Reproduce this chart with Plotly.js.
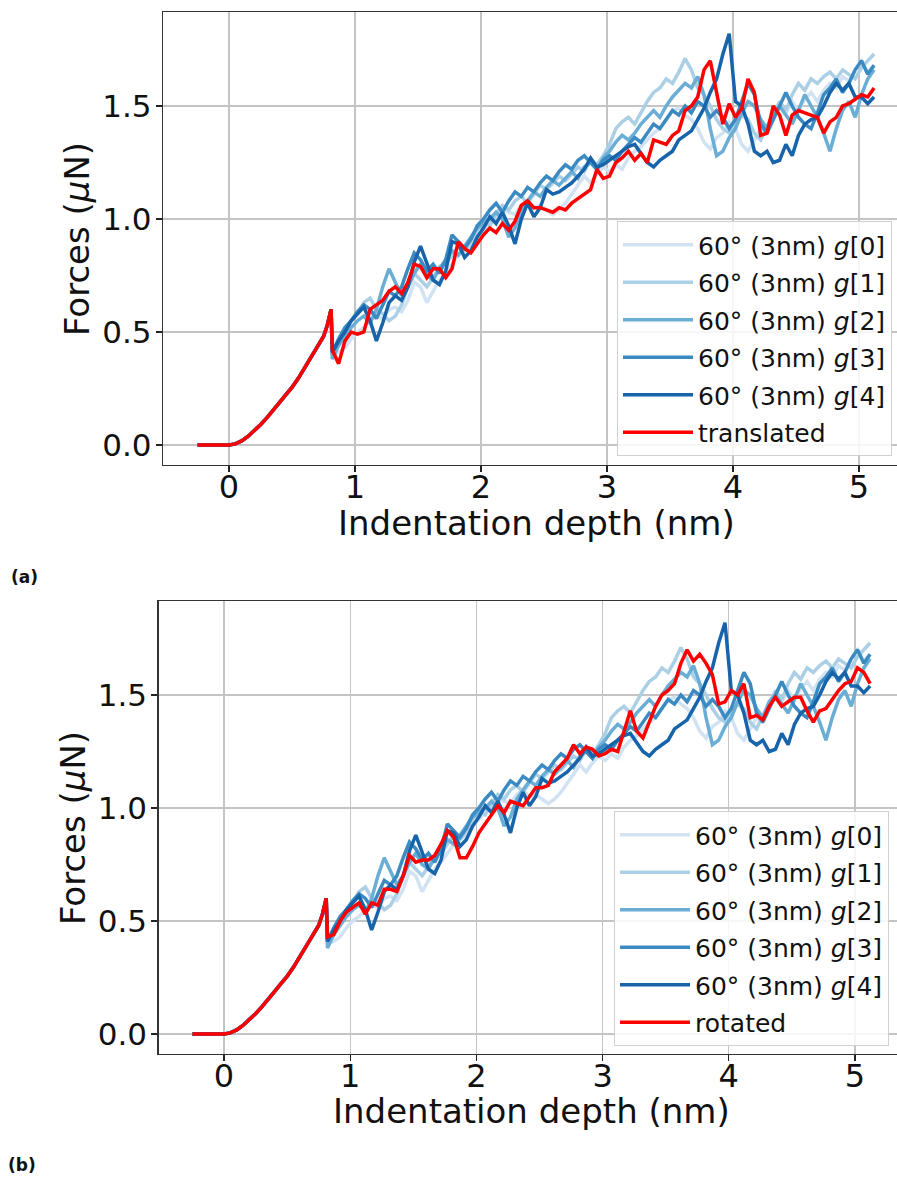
<!DOCTYPE html>
<html>
<head>
<meta charset="utf-8">
<script src="https://cdn.plot.ly/plotly-3.0.1.min.js"></script>
<style>html,body{margin:0;padding:0;background:#fff;}#plot{width:897px;height:1178px;}</style>
</head>
<body>
<div id="plot"></div>
<script>
// ---- data ----
const approachDepth = [-0.25,-0.15,-0.05,0,0.05,0.1,0.15,0.2,0.25,0.3,0.35,0.4,0.45,0.5,0.55,0.6,0.65,0.7,0.75,0.78,0.81];
const approachForce = [0,0,0,0,0.005,0.018,0.038,0.062,0.09,0.12,0.152,0.187,0.222,0.255,0.295,0.34,0.385,0.43,0.48,0.53,0.60];

const depth = [0.82,0.87,0.92,0.97,1.02,1.07,1.12,1.17,1.22,1.27,1.32,1.37,1.42,1.47,1.52,1.57,1.62,1.67,1.72,1.77,
  1.82,1.87,1.92,1.97,2.02,2.07,2.12,2.17,2.22,2.27,2.32,2.37,2.42,2.47,2.52,2.57,2.62,2.67,2.72,2.77,
  2.82,2.87,2.92,2.97,3.02,3.07,3.12,3.17,3.22,3.27,3.32,3.37,3.42,3.47,3.52,3.57,3.62,3.67,3.72,3.77,
  3.82,3.87,3.92,3.97,4.02,4.07,4.12,4.17,4.22,4.27,4.32,4.37,4.42,4.47,4.52,4.57,4.62,4.67,4.72,4.77,
  4.82,4.87,4.92,4.97,5.02,5.07,5.12];

const g0 = [0.40,0.41,0.43,0.47,0.50,0.52,0.55,0.57,0.56,0.60,0.61,0.59,0.64,0.72,0.70,0.63,0.68,0.73,0.76,0.80,
  0.84,0.86,0.88,0.92,0.95,0.98,1.01,1.04,1.03,1.02,1.06,1.08,1.05,1.06,1.04,1.02,1.04,1.07,1.11,1.15,
  1.19,1.16,1.20,1.23,1.21,1.24,1.22,1.27,1.30,1.32,1.35,1.38,1.40,1.44,1.48,1.49,1.46,1.44,1.40,1.34,
  1.31,1.36,1.38,1.43,1.40,1.33,1.30,1.35,1.40,1.38,1.44,1.50,1.47,1.52,1.48,1.53,1.56,1.52,1.57,1.60,
  1.58,1.63,1.61,1.66,1.70,1.65,1.68];
const g1 = [0.42,0.45,0.50,0.55,0.58,0.63,0.65,0.60,0.58,0.55,0.57,0.62,0.70,0.76,0.73,0.70,0.74,0.79,0.80,0.84,
  0.88,0.86,0.90,0.95,0.99,0.97,1.02,1.06,1.04,1.08,1.10,1.07,1.11,1.15,1.13,1.16,1.19,1.17,1.20,1.23,
  1.21,1.26,1.24,1.28,1.33,1.40,1.43,1.45,1.42,1.47,1.52,1.56,1.58,1.62,1.60,1.65,1.71,1.66,1.58,1.55,
  1.50,1.44,1.40,1.38,1.42,1.46,1.44,1.38,1.35,1.41,1.46,1.52,1.48,1.55,1.60,1.57,1.62,1.60,1.63,1.65,
  1.62,1.66,1.64,1.62,1.67,1.70,1.73];
const g2 = [0.38,0.44,0.48,0.52,0.55,0.57,0.54,0.60,0.70,0.78,0.72,0.66,0.70,0.76,0.80,0.75,0.73,0.78,0.82,0.86,
  0.84,0.88,0.92,0.96,0.98,1.00,1.03,1.00,0.92,0.96,1.04,1.08,1.12,1.10,1.14,1.17,1.15,1.18,1.21,1.18,
  1.23,1.25,1.22,1.27,1.30,1.34,1.37,1.35,1.38,1.42,1.45,1.48,1.45,1.50,1.54,1.57,1.60,1.58,1.63,1.55,
  1.40,1.28,1.30,1.36,1.40,1.47,1.52,1.50,1.44,1.40,1.47,1.50,1.46,1.42,1.48,1.55,1.50,1.45,1.38,1.30,
  1.40,1.48,1.52,1.45,1.55,1.62,1.66];
const g3 = [0.41,0.47,0.52,0.55,0.59,0.62,0.60,0.56,0.62,0.68,0.66,0.70,0.78,0.85,0.82,0.77,0.80,0.76,0.82,0.93,
  0.90,0.87,0.91,0.97,1.00,1.04,1.07,1.03,1.08,1.12,1.10,1.14,1.12,1.16,1.19,1.17,1.21,1.24,1.22,1.26,
  1.28,1.25,1.22,1.26,1.28,1.26,1.30,1.33,1.36,1.34,1.38,1.42,1.40,1.44,1.48,1.46,1.50,1.47,1.52,1.50,
  1.45,1.48,1.45,1.40,1.44,1.52,1.60,1.55,1.42,1.38,1.44,1.50,1.56,1.50,1.45,1.42,1.40,1.47,1.55,1.58,
  1.62,1.56,1.60,1.66,1.70,1.64,1.68];
const g4 = [0.41,0.46,0.50,0.55,0.58,0.61,0.55,0.46,0.54,0.63,0.66,0.64,0.70,0.81,0.88,0.80,0.73,0.71,0.77,0.90,
  0.89,0.83,0.86,0.92,0.96,1.01,0.98,1.03,0.97,0.89,1.00,1.07,1.01,1.05,1.13,1.11,1.12,1.14,1.16,1.19,
  1.22,1.27,1.23,1.24,1.26,1.28,1.30,1.32,1.33,1.29,1.25,1.23,1.26,1.28,1.30,1.35,1.37,1.39,1.44,1.49,
  1.56,1.62,1.73,1.82,1.52,1.50,1.42,1.30,1.28,1.30,1.25,1.26,1.33,1.28,1.37,1.42,1.44,1.45,1.50,1.56,
  1.60,1.57,1.60,1.54,1.54,1.51,1.54];

const translated = [0.42,0.36,0.46,0.50,0.49,0.50,0.60,0.62,0.64,0.68,0.70,0.67,0.72,0.80,0.79,0.74,0.78,0.78,0.74,0.78,
  0.90,0.87,0.85,0.89,0.93,0.96,0.94,0.98,0.95,0.99,1.06,1.08,1.05,1.05,1.04,1.03,1.05,1.04,1.07,1.09,
  1.11,1.13,1.22,1.18,1.19,1.25,1.27,1.30,1.26,1.29,1.25,1.35,1.34,1.33,1.37,1.39,1.48,1.50,1.54,1.66,
  1.70,1.55,1.42,1.51,1.45,1.49,1.62,1.56,1.37,1.38,1.50,1.46,1.37,1.46,1.48,1.47,1.46,1.45,1.38,1.43,
  1.45,1.50,1.51,1.53,1.55,1.54,1.58];
const rotated = [0.43,0.44,0.50,0.54,0.56,0.58,0.53,0.58,0.57,0.64,0.64,0.63,0.70,0.79,0.76,0.77,0.77,0.79,0.84,0.90,
  0.87,0.78,0.78,0.83,0.89,0.93,0.97,1.01,0.98,1.03,1.02,1.01,1.05,1.09,1.09,1.10,1.16,1.19,1.22,1.28,
  1.24,1.27,1.26,1.23,1.24,1.26,1.25,1.34,1.43,1.34,1.31,1.38,1.45,1.50,1.52,1.55,1.64,1.70,1.65,1.68,
  1.64,1.59,1.46,1.47,1.52,1.50,1.55,1.40,1.41,1.39,1.45,1.49,1.45,1.47,1.49,1.49,1.43,1.38,1.43,1.44,
  1.48,1.52,1.55,1.56,1.62,1.60,1.55];

const seriesNames = ["60° (3nm) <i>g</i>[0]","60° (3nm) <i>g</i>[1]","60° (3nm) <i>g</i>[2]","60° (3nm) <i>g</i>[3]","60° (3nm) <i>g</i>[4]"];
const blueSeries = [g0, g1, g2, g3, g4];
const blueColors = ["#d1e2f2","#abd0e6","#6aaed6","#3b8bc2","#1764ab"];
const yTicks = [0, 0.5, 1.0, 1.5];
const xTicks = [0, 1, 2, 3, 4, 5];

// ---- build traces ----
const fullX = approachDepth.concat(depth);
const traces = [];
function addPanel(xa, ya, leg, redVals, redName, tag) {
  blueSeries.forEach((s, i) => {
    traces.push({x: fullX, y: approachForce.concat(s), type: 'scatter', mode: 'lines',
      name: seriesNames[i], xaxis: xa, yaxis: ya, legend: leg, legendgroup: tag + i,
      line: {color: blueColors[i], width: 3.5}});
  });
  traces.push({x: fullX, y: approachForce.concat(redVals), type: 'scatter', mode: 'lines',
    name: redName, xaxis: xa, yaxis: ya, legend: leg, legendgroup: tag + 'r',
    line: {color: '#ff0000', width: 3.5}});
}
addPanel('x', 'y', 'legend', translated, 'translated', 'a');
addPanel('x2', 'y2', 'legend2', rotated, 'rotated', 'b');

const W = 897, H = 1178;
const fontFam = 'DejaVu Sans, sans-serif';
function xax(domainLeft, range, anchor) {
  return {domain: [domainLeft / W, 1], range: range, anchor: anchor,
    tickvals: xTicks, ticktext: xTicks.map(String), ticks: 'outside', ticklen: 6, tickwidth: 1.2, tickcolor: '#222',
    ticklabelstandoff: -13,
    showgrid: true, gridcolor: '#c4c4c4', gridwidth: 1.2, zeroline: false,
    showline: true, mirror: true, linecolor: '#333', linewidth: 1.2,
    tickfont: {family: fontFam, size: 32, color: '#111'}, automargin: false};
}
function yax(top, bottom, anchor) {
  return {domain: [1 - bottom / H, 1 - top / H], range: [-0.0885, 1.916], anchor: anchor,
    tickvals: yTicks, ticktext: yTicks.map(v => v.toFixed(1)), ticks: 'outside', ticklen: 6, tickwidth: 1.2, tickcolor: '#222',
    ticklabelstandoff: -2,
    showgrid: true, gridcolor: '#c4c4c4', gridwidth: 1.2, zeroline: false,
    showline: true, mirror: false, linecolor: '#333', linewidth: 1.2,
    tickfont: {family: fontFam, size: 31, color: '#111'}, automargin: false};
}
const legendStyle = (x, yTop) => ({x: x / W, y: 1 - yTop / H, xanchor: 'left', yanchor: 'top',
  bgcolor: 'rgba(255,255,255,0.85)', bordercolor: '#d0d0d0', borderwidth: 1,
  font: {family: fontFam, size: 25, color: '#111'}, tracegroupgap: 2, itemwidth: 70,
  traceorder: 'grouped'});

const layout = {
  width: W, height: H, margin: {l: 0, r: 0, t: 0, b: 0},
  paper_bgcolor: '#fff', plot_bgcolor: '#fff', showlegend: true,
  xaxis: xax(163, [-0.524, 5.302], 'y'),
  yaxis: yax(12, 465, 'x'),
  xaxis2: xax(158.5, [-0.519, 5.333], 'y2'),
  yaxis2: yax(601, 1054, 'x2'),
  legend: legendStyle(617, 221),
  legend2: legendStyle(614, 811),
  annotations: [
    {text: 'Indentation depth (nm)', xref: 'paper', yref: 'paper', x: 536 / W, y: 1 - 523 / H, xanchor: 'center', yanchor: 'middle', showarrow: false, font: {family: fontFam, size: 34, color: '#111'}},
    {text: 'Indentation depth (nm)', xref: 'paper', yref: 'paper', x: 531 / W, y: 1 - 1111 / H, xanchor: 'center', yanchor: 'middle', showarrow: false, font: {family: fontFam, size: 34, color: '#111'}},
    {text: 'Forces (<i>μ</i>N)', xref: 'paper', yref: 'paper', x: 77 / W, y: 1 - 239 / H, xanchor: 'center', yanchor: 'middle', textangle: -90, showarrow: false, font: {family: fontFam, size: 34, color: '#111'}},
    {text: 'Forces (<i>μ</i>N)', xref: 'paper', yref: 'paper', x: 73 / W, y: 1 - 828 / H, xanchor: 'center', yanchor: 'middle', textangle: -90, showarrow: false, font: {family: fontFam, size: 34, color: '#111'}},
    {text: '<b>(a)</b>', xref: 'paper', yref: 'paper', x: 24 / W, y: 1 - 577 / H, xanchor: 'center', yanchor: 'middle', showarrow: false, font: {family: fontFam, size: 17, color: '#111'}},
    {text: '<b>(b)</b>', xref: 'paper', yref: 'paper', x: 22 / W, y: 1 - 1165 / H, xanchor: 'center', yanchor: 'middle', showarrow: false, font: {family: fontFam, size: 17, color: '#111'}}
  ]
};
Plotly.newPlot('plot', traces, layout, {displayModeBar: false, staticPlot: true});
</script>
</body>
</html>
